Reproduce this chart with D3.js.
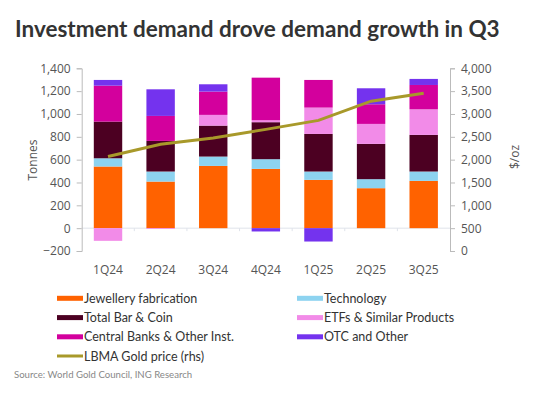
<!DOCTYPE html>
<html><head><meta charset="utf-8">
<script src="https://cdn.jsdelivr.net/npm/d3@7"></script>
<style>
html,body{margin:0;padding:0;background:#fff;}
svg{display:block;font-family:"Open Sans",sans-serif;}
</style></head>
<body><svg id="c" width="547" height="399"></svg>
<script>
const quarters = ["1Q24","2Q24","3Q24","4Q24","1Q25","2Q25","3Q25"];
const jewellery = [540, 408, 545, 519, 423, 350, 414];
const technology = [72, 88, 82, 85, 73, 79, 82];
const barCoin = [321, 268, 271, 324, 329, 309, 321];
const etfs = [-111, -7, 94, 17, 231, 175, 224];
const centralBanks = [315, 219, 204, 373, 242, 172, 213];
const otc = [50, 233, 64, -29, -117, 140, 53];
const goldPrice = [2070, 2338, 2474, 2663, 2860, 3280, 3456];
const leftTicks = [-200, 0, 200, 400, 600, 800, 1000, 1200, 1400];
const rightTicks = [0, 500, 1000, 1500, 2000, 2500, 3000, 3500, 4000];

const seriesDefs = [
  {key:"Jewellery fabrication", values:jewellery, color:"#FF6200"},
  {key:"Technology", values:technology, color:"#8DD3F0"},
  {key:"Total Bar & Coin", values:barCoin, color:"#4C0022"},
  {key:"ETFs & Similar Products", values:etfs, color:"#F28BE8"},
  {key:"Central Banks & Other Inst.", values:centralBanks, color:"#D3009D"},
  {key:"OTC and Other", values:otc, color:"#7433EE"}
];

const svg = d3.select("#c");
const L = 81.7, R = 450, T = 68.3, B = 251;

const table = quarters.map((q,i)=>{
  const o = {q};
  seriesDefs.forEach(s=>o[s.key]=s.values[i]);
  return o;
});

const x = d3.scaleBand().domain(quarters).range([L,R]).paddingInner(0.46).paddingOuter(0.23);
const y = d3.scaleLinear().domain([-200,1400]).range([B,T]);
const y2 = d3.scaleLinear().domain([0,4000]).range([B,T]);

// title
svg.append("text").attr("x",15).attr("y",37)
  .attr("font-size",22.5).attr("font-weight","bold").attr("fill","#333")
  .attr("font-family","Lato")
  .text("Investment demand drove demand growth in Q3");

// zero line
const xb = d3.scaleBand().domain(quarters).range([L,R]);
svg.append("line").attr("x1",L).attr("x2",R).attr("y1",y(0)).attr("y2",y(0))
  .attr("stroke","#dfe3ea").attr("stroke-width",1);
quarters.forEach((q,i)=>{
  if(i>0) svg.append("line").attr("x1",xb(q)).attr("x2",xb(q)).attr("y1",y(0)).attr("y2",y(0)+3)
    .attr("stroke","#dfe3ea");
});

// bars
const stack = d3.stack().keys(seriesDefs.map(s=>s.key)).offset(d3.stackOffsetDiverging);
const stacked = stack(table);
stacked.forEach((layer,li)=>{
  svg.append("g").attr("fill",seriesDefs[li].color)
    .selectAll("rect").data(layer).join("rect")
    .attr("x",d=>x(d.data.q)).attr("width",x.bandwidth())
    .attr("y",d=>y(Math.max(d[0],d[1])))
    .attr("height",d=>Math.abs(y(d[0])-y(d[1])));
});

// left axis
const axL = svg.append("g").attr("transform",`translate(${L},0)`)
  .call(d3.axisLeft(y).tickValues(leftTicks).tickFormat(d3.format(",")).tickSize(5).tickPadding(6));
axL.select(".domain").attr("stroke","#bbb");
axL.selectAll(".tick line").attr("stroke","#bbb");
axL.selectAll("text").attr("font-size",12).attr("fill","#555").attr("font-family","Open Sans");

// right axis
const axR = svg.append("g").attr("transform",`translate(${R},0)`)
  .call(d3.axisRight(y2).tickValues(rightTicks).tickFormat(d3.format(",")).tickSize(5).tickPadding(6));
axR.select(".domain").attr("stroke","#bbb");
axR.selectAll(".tick line").attr("stroke","#bbb");
axR.selectAll("text").attr("font-size",12).attr("fill","#555").attr("font-family","Open Sans");

// x labels
svg.append("g").selectAll("text").data(quarters).join("text")
  .attr("x",d=>x(d)+x.bandwidth()/2).attr("y",274)
  .attr("text-anchor","middle").attr("font-size",12).attr("fill","#555")
  .text(d=>d);

// axis titles
svg.append("text").attr("transform",`translate(37,160) rotate(-90)`)
  .attr("text-anchor","middle").attr("font-size",12).attr("fill","#555").text("Tonnes");
svg.append("text").attr("transform",`translate(519,157) rotate(-90)`)
  .attr("text-anchor","middle").attr("font-size",12).attr("fill","#555").text("$/oz");

// gold line
const line = d3.line().x((d,i)=>x(quarters[i])+x.bandwidth()/2).y(d=>y2(d));
svg.append("path").datum(goldPrice).attr("d",line)
  .attr("fill","none").attr("stroke","#A8992A").attr("stroke-width",3);

// legend
const legendItems = [
  {label:"Jewellery fabrication", color:"#FF6200", col:0, row:0},
  {label:"Technology", color:"#8DD3F0", col:1, row:0},
  {label:"Total Bar & Coin", color:"#4C0022", col:0, row:1},
  {label:"ETFs & Similar Products", color:"#F28BE8", col:1, row:1},
  {label:"Central Banks & Other Inst.", color:"#D3009D", col:0, row:2},
  {label:"OTC and Other", color:"#7433EE", col:1, row:2},
  {label:"LBMA Gold price (rhs)", color:"#A8992A", col:0, row:3, line:true}
];
const colX = [57, 297], rowY = [298.3, 317.6, 336.8, 356];
const lg = svg.append("g").selectAll("g").data(legendItems).join("g")
  .attr("transform",d=>`translate(${colX[d.col]},${rowY[d.row]})`);
lg.append("rect").attr("x",0).attr("y",d=>d.line?-1.5:-2.5).attr("width",26).attr("height",d=>d.line?3:5)
  .attr("fill",d=>d.color);
lg.append("text").attr("x",27).attr("y",4.5).attr("font-size",12.5).attr("fill","#333")
  .attr("font-family","Lato").text(d=>d.label);

// source
svg.append("text").attr("x",14).attr("y",378).attr("font-size",9.6).attr("fill","#888")
  .attr("font-family","Lato")
  .text("Source: World Gold Council, ING Research");
</script></body></html>
